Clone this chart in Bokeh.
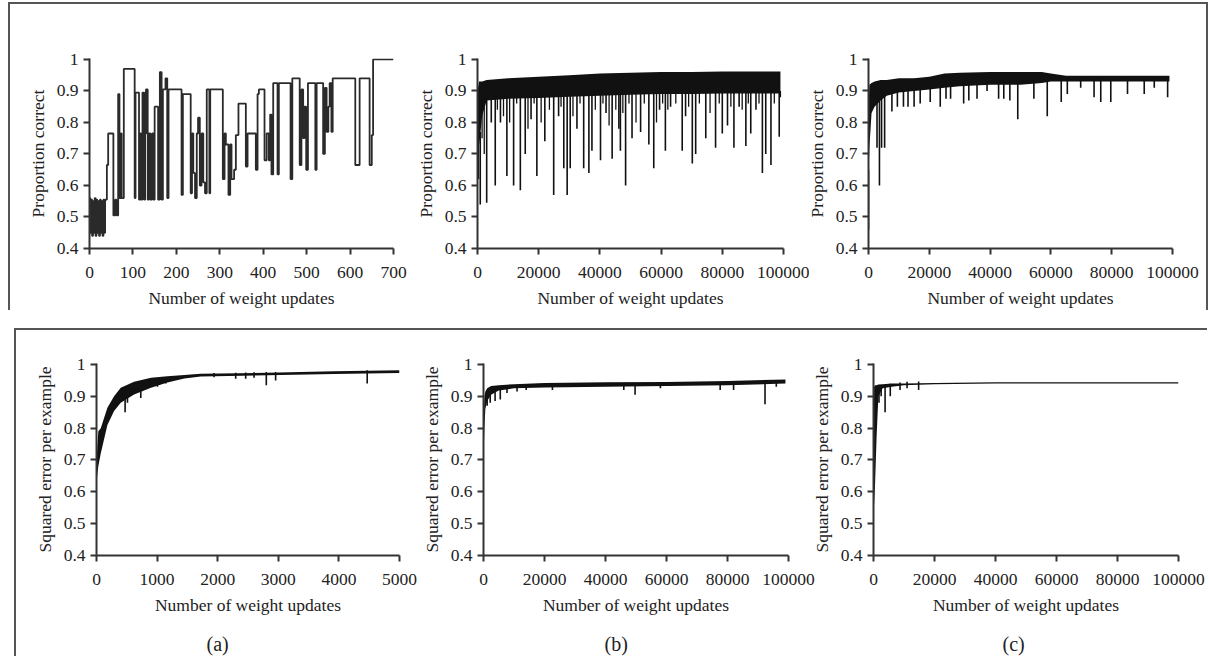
import numpy as np
from bokeh.plotting import figure
from bokeh.layouts import row, column
from bokeh.models import Range1d, FixedTicker, NumeralTickFormatter, CustomJSTickFormatter, Title
from bokeh.embed import file_html
from bokeh.resources import INLINE

FONT = "Liberation Serif"
TXT = "#222222"

# ---------------- data ----------------
Y_TICKS = [0.4, 0.5, 0.6, 0.7, 0.8, 0.9, 1.0]
X_TICKS_700 = [0, 100, 200, 300, 400, 500, 600, 700]
X_TICKS_5000 = [0, 1000, 2000, 3000, 4000, 5000]
X_TICKS_100K = [0, 20000, 40000, 60000, 80000, 100000]

# (a) top: proportion correct, step series
TL_X = [0, 2, 4, 6, 8, 10, 12, 14, 16, 18, 20, 22, 24, 26, 28, 30, 32, 34, 36, 40,
        43, 55, 59, 62, 66, 69, 72, 74, 79, 104, 106, 114, 117, 119, 122, 126, 128, 130, 134, 137,
        140, 144, 147, 150, 158, 162, 166, 169, 175, 179, 182, 212, 215, 233, 236, 239, 243, 247, 250, 254,
        258, 262, 266, 270, 276, 278, 307, 311, 314, 320, 324, 327, 333, 337, 343, 360, 364, 383, 387, 390,
        403, 408, 413, 416, 419, 423, 433, 436, 463, 467, 484, 488, 492, 495, 499, 503, 520, 523, 538, 542,
        546, 550, 553, 557, 560, 612, 622, 645, 650, 653, 700]
TL_Y = [0.56, 0.45, 0.555, 0.44, 0.55, 0.45, 0.56, 0.44, 0.555, 0.45, 0.55, 0.44, 0.555, 0.45, 0.55, 0.44, 0.555, 0.45, 0.555, 0.665,
        0.765, 0.505, 0.555, 0.505, 0.89, 0.56, 0.765, 0.56, 0.97, 0.56, 0.895, 0.555, 0.765, 0.555, 0.895, 0.555, 0.765, 0.905, 0.555, 0.765,
        0.555, 0.765, 0.555, 0.85, 0.555, 0.96, 0.555, 0.905, 0.94, 0.56, 0.905, 0.57, 0.89, 0.575, 0.765, 0.64, 0.56, 0.765, 0.815, 0.6,
        0.765, 0.61, 0.575, 0.905, 0.575, 0.905, 0.62, 0.765, 0.73, 0.57, 0.73, 0.62, 0.65, 0.76, 0.86, 0.66, 0.765, 0.65, 0.89, 0.905,
        0.68, 0.765, 0.68, 0.825, 0.635, 0.925, 0.635, 0.925, 0.62, 0.94, 0.665, 0.905, 0.75, 0.85, 0.65, 0.925, 0.65, 0.925, 0.7, 0.91,
        0.77, 0.85, 0.925, 0.77, 0.94, 0.665, 0.94, 0.665, 0.76, 1.0, 1.0]

# (b) top: dense band + downward spikes
TM_BAND_X = [0, 500, 1500, 3000, 10000, 20000, 30000, 40000, 50000, 60000, 70000, 80000, 90000, 99000]
TM_BAND_LO = [0.70, 0.72, 0.82, 0.87, 0.875, 0.878, 0.882, 0.885, 0.888, 0.89, 0.89, 0.892, 0.892, 0.892]
TM_BAND_HI = [0.90, 0.93, 0.93, 0.935, 0.94, 0.945, 0.95, 0.955, 0.958, 0.96, 0.96, 0.962, 0.962, 0.962]
TM_SPIKE_X = [300, 900, 3000, 4500, 5800, 7500, 9600, 11800, 14000, 15600, 17500, 19400, 22000, 24900, 26500,
              28200, 29300, 30300, 32500, 34700, 36400, 37400, 40200, 42000, 44000, 46200, 46700, 48400, 50500,
              53300, 56000, 57600, 59500, 61400, 63100, 66900, 68000, 70200, 71300, 74600, 77800, 80000, 81700,
              83800, 85500, 87700, 89300, 91000, 93100, 94200, 95900, 98600]
TM_SPIKE_Y = [0.62, 0.54, 0.545, 0.80, 0.60, 0.80, 0.63, 0.60, 0.585, 0.70, 0.81, 0.63, 0.74, 0.57, 0.82,
              0.655, 0.57, 0.655, 0.78, 0.655, 0.64, 0.71, 0.68, 0.83, 0.685, 0.78, 0.71, 0.60, 0.75,
              0.77, 0.73, 0.655, 0.84, 0.71, 0.85, 0.71, 0.82, 0.67, 0.70, 0.75, 0.72, 0.765, 0.79,
              0.72, 0.85, 0.725, 0.765, 0.84, 0.64, 0.70, 0.665, 0.755]
TM_DIP_X = [1500, 2200, 6500, 8500, 10500, 12800, 16500, 18500, 20800, 23500, 27300, 31200, 33500, 38500,
            41000, 43000, 45200, 47500, 49500, 51800, 54500, 58500, 60500, 62200, 64800, 69000, 72500,
            76000, 79000, 82800, 86500, 88500, 92000, 97000, 99000]
TM_DIP_Y = [0.75, 0.70, 0.84, 0.82, 0.80, 0.86, 0.78, 0.86, 0.80, 0.84, 0.85, 0.82, 0.86, 0.84,
            0.86, 0.79, 0.84, 0.83, 0.86, 0.80, 0.86, 0.80, 0.86, 0.84, 0.86, 0.85, 0.86,
            0.83, 0.86, 0.85, 0.84, 0.86, 0.86, 0.86, 0.88]

# (c) top
TR_BAND_X = [0, 300, 1000, 2000, 4000, 6000, 10000, 15000, 20000, 25000, 30000, 40000, 50000, 57000, 60000, 65000, 70000, 80000, 90000, 99000]
TR_BAND_LO = [0.64, 0.72, 0.83, 0.85, 0.87, 0.885, 0.895, 0.90, 0.905, 0.91, 0.915, 0.92, 0.92, 0.925, 0.93, 0.93, 0.93, 0.93, 0.93, 0.93]
TR_BAND_HI = [0.85, 0.92, 0.925, 0.93, 0.935, 0.935, 0.94, 0.94, 0.945, 0.955, 0.958, 0.96, 0.96, 0.96, 0.955, 0.948, 0.948, 0.948, 0.948, 0.948]
TR_SPIKE_X = [0, 2800, 3600, 4300, 5300, 7700, 9500, 11500, 13000, 15000, 17000, 20300, 23600, 25500, 27000,
              31300, 33000, 35700, 39000, 42800, 44500, 46500, 49100, 54400, 58800, 63400, 65400, 69800,
              74200, 76400, 79700, 85200, 90700, 94000, 98400]
TR_SPIKE_Y = [0.46, 0.72, 0.60, 0.72, 0.72, 0.835, 0.85, 0.85, 0.85, 0.85, 0.86, 0.865, 0.85, 0.875, 0.875,
              0.86, 0.87, 0.875, 0.90, 0.875, 0.875, 0.87, 0.81, 0.875, 0.82, 0.865, 0.89, 0.91,
              0.88, 0.865, 0.865, 0.89, 0.89, 0.91, 0.88]

# (a) bottom: squared error
BL_BAND_X = [0, 30, 70, 180, 290, 400, 620, 900, 1170, 1450, 1720, 2820, 3920, 5000]
BL_BAND_LO = [0.63, 0.68, 0.72, 0.81, 0.854, 0.88, 0.906, 0.927, 0.943, 0.956, 0.962, 0.966, 0.970, 0.973]
BL_BAND_HI = [0.70, 0.79, 0.80, 0.864, 0.90, 0.927, 0.946, 0.958, 0.963, 0.967, 0.971, 0.974, 0.979, 0.982]
BL_SPIKE_X = [472, 511, 731, 1005, 1143, 1940, 2297, 2462, 2600, 2802, 2956, 4467]
BL_SPIKE_Y = [0.85, 0.88, 0.895, 0.93, 0.94, 0.96, 0.955, 0.955, 0.958, 0.935, 0.95, 0.94]

# (b) bottom
BM_BAND_X = [0, 300, 600, 1200, 2500, 5000, 10000, 20000, 40000, 60000, 80000, 99000]
BM_BAND_LO = [0.70, 0.80, 0.86, 0.885, 0.905, 0.918, 0.925, 0.928, 0.930, 0.932, 0.935, 0.94]
BM_BAND_HI = [0.80, 0.90, 0.915, 0.925, 0.932, 0.935, 0.938, 0.942, 0.944, 0.945, 0.948, 0.953]
BM_SPIKE_X = [1200, 2200, 3800, 5500, 7700, 11000, 14000, 22600, 46000, 49700, 58000, 77600, 82000, 92300, 96000]
BM_SPIKE_Y = [0.87, 0.88, 0.885, 0.89, 0.91, 0.915, 0.92, 0.92, 0.92, 0.905, 0.925, 0.92, 0.92, 0.875, 0.93]

# (c) bottom
BR_BAND_X = [0, 200, 500, 1000, 1600, 3000, 6000, 10000, 20000, 40000, 60000, 80000, 100000]
BR_BAND_LO = [0.54, 0.56, 0.62, 0.77, 0.90, 0.925, 0.93, 0.935, 0.938, 0.94, 0.94, 0.94, 0.94]
BR_BAND_HI = [0.75, 0.93, 0.935, 0.935, 0.937, 0.938, 0.94, 0.94, 0.942, 0.944, 0.944, 0.944, 0.944]
BR_SPIKE_X = [1800, 2500, 3800, 5500, 8700, 11000, 14800]
BR_SPIKE_Y = [0.88, 0.90, 0.85, 0.90, 0.92, 0.925, 0.92]

Y_LABEL_TOP = "Proportion correct"
Y_LABEL_BOTTOM = "Squared error per example"
X_LABEL = "Number of weight updates"
CAPTIONS = ["(a)", "(b)", "(c)"]


def make_fig(width, height, xmax, xticks, ylabel, mbl, mbr, mbt, mbb, shift=0):
    p = figure(width=width, height=height, x_range=Range1d(0, xmax), y_range=Range1d(0.4, 1.003),
               output_backend="svg", toolbar_location=None,
               min_border_left=mbl, min_border_right=mbr, min_border_top=mbt, min_border_bottom=mbb)
    if shift:
        p.styles = {"margin-left": f"{shift}px"}
    p.grid.visible = False
    p.outline_line_color = None
    p.background_fill_color = None
    p.border_fill_color = None
    p.xaxis.ticker = FixedTicker(ticks=xticks)
    p.yaxis.ticker = FixedTicker(ticks=Y_TICKS)
    p.xaxis.formatter = NumeralTickFormatter(format="0")
    p.yaxis.formatter = CustomJSTickFormatter(code="return tick > 0.999 ? '1' : tick.toFixed(1);")
    for ax in (p.xaxis[0], p.yaxis[0]):
        ax.axis_line_color = "#333333"
        ax.axis_line_width = 2
        ax.major_tick_line_color = "#333333"
        ax.major_tick_line_width = 2
        ax.major_tick_out = 6
        ax.major_tick_in = 0
        ax.minor_tick_line_color = None
        ax.major_label_text_font = FONT
        ax.major_label_text_font_size = "17.5px"
        ax.major_label_text_color = TXT
        ax.axis_label_text_font = FONT
        ax.axis_label_text_font_size = "17.5px"
        ax.axis_label_text_font_style = "normal"
        ax.axis_label_text_color = TXT
    p.xaxis.major_label_standoff = 12
    p.yaxis.major_label_standoff = 5
    p.xaxis.axis_label = X_LABEL
    p.xaxis.axis_label_standoff = 7
    p.yaxis.axis_label = ylabel
    p.yaxis.axis_label_standoff = 6
    return p


def add_caption(p, text, offset):
    p.add_layout(Title(text=text, align="left", offset=offset, text_font=FONT, text_font_size="20px",
                       text_font_style="normal", text_color=TXT, standoff=26),
                 "below")


def add_band(p, bx, lo, hi, sx, sy):
    p.varea(x=bx, y1=lo, y2=hi, fill_color="#111111")
    tops = np.interp(sx, bx, lo) + 0.01
    p.segment(x0=sx, y0=tops, x1=sx, y1=sy, line_color="#111111", line_width=1.6)


# top row
H1, MBT1, MBB1 = 306, 54, 60
f1 = make_fig(400, H1, 700, X_TICKS_700, Y_LABEL_TOP, 79, 17, MBT1, MBB1)
f1.step(TL_X, TL_Y, mode="after", line_color="#2a2a2a", line_width=1.8)
f2 = make_fig(399, H1, 100000, X_TICKS_100K, Y_LABEL_TOP, 67, 26, MBT1, MBB1)
add_band(f2, TM_BAND_X, TM_BAND_LO, TM_BAND_HI, TM_SPIKE_X, TM_SPIKE_Y)
f2.segment(x0=TM_DIP_X, y0=[0.9] * len(TM_DIP_X), x1=TM_DIP_X, y1=TM_DIP_Y, line_color="#111111", line_width=1.3)
f3 = make_fig(405, H1, 100000, X_TICKS_100K, Y_LABEL_TOP, 67, 34, MBT1, MBB1, shift=-8)
add_band(f3, TR_BAND_X, TR_BAND_LO, TR_BAND_HI, TR_SPIKE_X, TR_SPIKE_Y)

# bottom row (taller than the window; the root clips the blank bottom strip)
H2, MBT2, MBB2 = 337, 33, 112
g1 = make_fig(404, H2, 5000, X_TICKS_5000, Y_LABEL_BOTTOM, 80, 21, MBT2, MBB2)
add_band(g1, BL_BAND_X, BL_BAND_LO, BL_BAND_HI, BL_SPIKE_X, BL_SPIKE_Y)
add_caption(g1, CAPTIONS[0], 110)
g2 = make_fig(404, H2, 100000, X_TICKS_100K, Y_LABEL_BOTTOM, 67, 32, MBT2, MBB2, shift=-4)
add_band(g2, BM_BAND_X, BM_BAND_LO, BM_BAND_HI, BM_SPIKE_X, BM_SPIKE_Y)
add_caption(g2, CAPTIONS[1], 121)
g3 = make_fig(401, H2, 100000, X_TICKS_100K, Y_LABEL_BOTTOM, 67, 29, MBT2, MBB2, shift=-14)
add_band(g3, BR_BAND_X, BR_BAND_LO, BR_BAND_HI, BR_SPIKE_X, BR_SPIKE_Y)
add_caption(g3, CAPTIONS[2], 129)

top = row(f1, f2, f3, spacing=0,
          styles={"border-top": "2px solid #555555", "border-left": "2px solid #555555",
                  "border-right": "2px solid #555555", "margin-left": "8px", "margin-top": "2px"})
bottom = row(g1, g2, g3, spacing=0,
             styles={"border-top": "2px solid #555555", "border-left": "2px solid #555555",
                     "margin-left": "14px"})
root = column(top, bottom, spacing=18, styles={"max-height": "656px", "overflow": "hidden"})

open("out.html", "w").write(file_html(root, INLINE))
